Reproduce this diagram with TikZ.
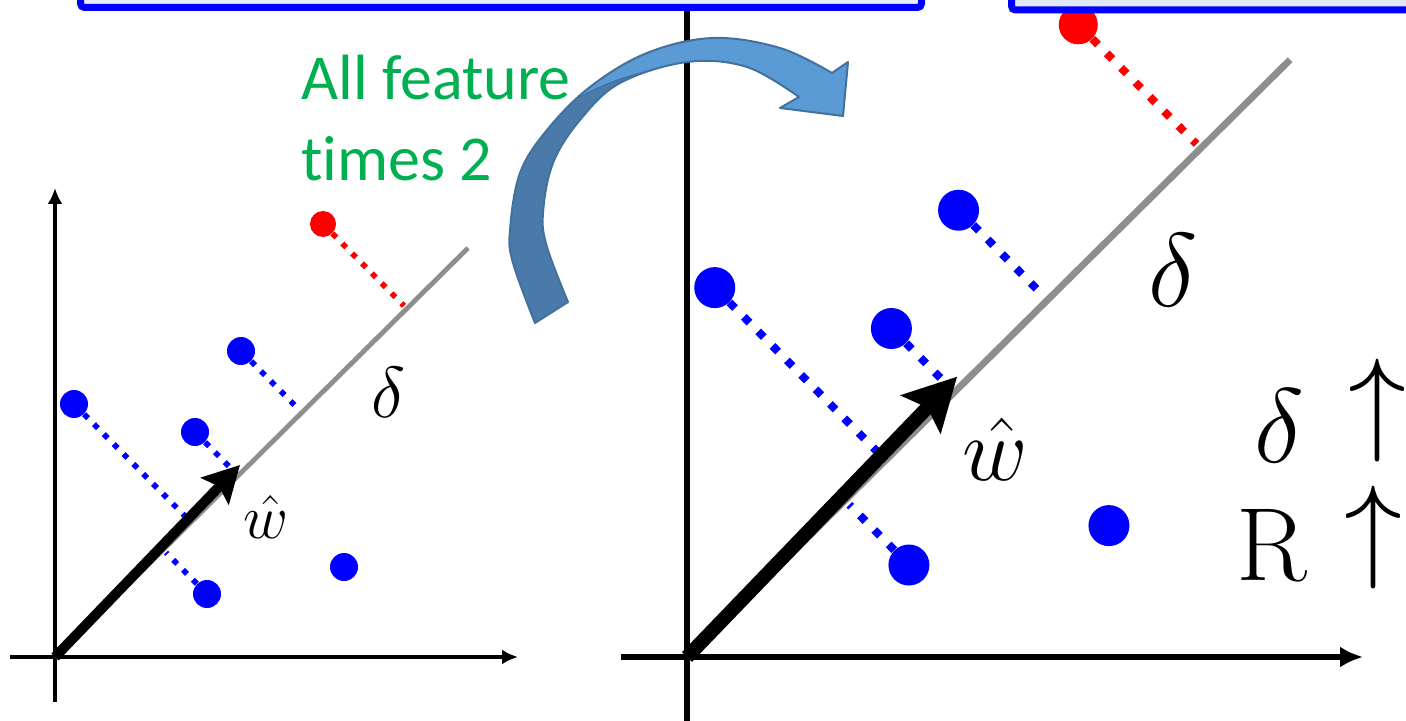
\documentclass[tikz,border=0pt]{standalone}
\usepackage{fontspec}
\newfontfamily\calib[Ligatures=CommonOff]{Carlito}
\usetikzlibrary{arrows.meta,calc}
\definecolor{featgreen}{HTML}{00B050}
\definecolor{boxfillR}{HTML}{DEE8F4}
\definecolor{boxfillL}{HTML}{E8EEF7}
\definecolor{arrlight}{HTML}{5B9BD5}
\definecolor{arrdark}{HTML}{4A7AAA}
\definecolor{arredge}{HTML}{41719C}
\definecolor{projgray}{HTML}{8E8E8E}
\begin{document}
\begin{tikzpicture}[x=0.5pt,y=-0.5pt,
  topbox/.style={draw=blue,line width=3.5pt,rounded corners=2pt},
  axisL/.style={line width=2pt,-{Latex[length=8pt,width=7.5pt]}},
  axisR/.style={line width=3.2pt,-{Latex[length=11.5pt,width=10.5pt]}},
  grayL/.style={projgray,line width=2.4pt},
  grayR/.style={projgray,line width=3.4pt},
  warrL/.style={line width=5pt,-{Stealth[length=18pt,width=19pt,inset=3pt]}},
  warrR/.style={line width=7pt,-{Stealth[length=26pt,width=27pt,inset=4.5pt]}},
  dotlineL/.style={line width=2.8pt,dash pattern=on 2.8pt off 4.2pt,shorten >=2pt},
  dotlineR/.style={line width=4pt,dash pattern=on 4pt off 6.2pt,shorten >=3pt},
  ptL/.style={circle,inner sep=0pt,minimum size=14pt,fill=blue},
  ptR/.style={circle,inner sep=0pt,minimum size=20.5pt,fill=blue},
  lblL/.style={inner sep=0pt,font=\Huge,scale=1.45},
  lblR/.style={inner sep=0pt,font=\Huge,scale=2.1},
  lblW/.style={inner sep=0pt,font=\Huge,scale=1.246},
  lblWR/.style={inner sep=0pt,font=\Huge,scale=1.81},
  feat/.style={anchor=base west,inner sep=0pt,text=featgreen,font=\calib\fontsize{32}{38}\selectfont},
  bigd/.style={inner sep=0pt,anchor=base west,font=\Huge,scale=2.12},
  bigR/.style={inner sep=0pt,anchor=base west,font=\fontsize{52}{52}\selectfont},
  bigarr/.style={inner sep=0pt,anchor=south,font=\Huge,scale=2.33}
]
\useasboundingbox (0,0) rectangle (1406,721);
\clip (0,0) rectangle (1406,721);

% ---------------- left plot ----------------
\begin{scope}[shift={(55,657)}]
  \coordinate (lO) at (0,0);
  \coordinate (lE) at (413,-409);
  \coordinate (lW) at (185,-192);
  \coordinate (lXs) at (-45,0);
  \coordinate (lXe) at (463,0);
  \coordinate (lYs) at (0,45);
  \coordinate (lYe) at (0,-469);
  \draw[axisL] (lXs) -- (lXe);
  \draw[axisL] (lYs) -- (lYe);
  \draw[grayL] (lO) -- (lE);
  \node[ptL,fill=red,minimum size=13pt] (lr) at (268,-433) {};
  \node[ptL] (lb1) at (186,-306) {};
  \node[ptL] (lb2) at (19,-253) {};
  \node[ptL] (lb3) at (140,-225) {};
  \node[ptL] (lb4) at (152,-63) {};
  \node[ptL] (lb5) at (289,-90) {};
  \draw[dotlineL,red] (lr) -- ($(lO)!(lr.center)!(lE)$);
  \draw[dotlineL,blue] (lb1) -- ($(lO)!(lb1.center)!(lE)$);
  \draw[dotlineL,blue] (lb2) -- ($(lO)!(lb2.center)!(lE)$);
  \draw[dotlineL,blue] (lb3) -- ($(lO)!(lb3.center)!(lE)$);
  \draw[dotlineL,blue] (lb4) -- ($(lO)!(lb4.center)!(lE)$);
  \draw[warrL] (lO) -- (lW);
  \node[lblL] (ld) at (333,-265) {$\delta$};
  \node[lblW] (lw) at (211,-140) {$\hat{w}$};
\end{scope}

% ---------------- right plot ----------------
\begin{scope}[shift={(687,657)},scale=1.46]
  \coordinate (rO) at (0,0);
  \coordinate (rE) at (413,-409);
  \coordinate (rW) at (185,-192);
  \coordinate (rXs) at (-45,0);
  \coordinate (rXe) at (463,0);
  \coordinate (rYs) at (0,45);
  \coordinate (rYe) at (0,-469);
  \draw[axisR] (rXs) -- (rXe);
  \draw[axisR] (rYs) -- (rYe);
  \draw[grayR] (rO) -- (rE);
  \node[ptR,fill=red,minimum size=19.5pt] (rr) at (268,-433) {};
  \node[ptR] (rb1) at (186,-306) {};
  \node[ptR] (rb2) at (19,-253) {};
  \node[ptR] (rb3) at (140,-225) {};
  \node[ptR] (rb4) at (152,-63) {};
  \node[ptR] (rb5) at (289,-90) {};
  \draw[dotlineR,red] (rr) -- ($(rO)!(rr.center)!(rE)$);
  \draw[dotlineR,blue] (rb1) -- ($(rO)!(rb1.center)!(rE)$);
  \draw[dotlineR,blue] (rb2) -- ($(rO)!(rb2.center)!(rE)$);
  \draw[dotlineR,blue] (rb3) -- ($(rO)!(rb3.center)!(rE)$);
  \draw[dotlineR,blue] (rb4) -- ($(rO)!(rb4.center)!(rE)$);
  \draw[warrR] (rO) -- (rW);
  \node[lblR] (rd) at (333,-265) {$\delta$};
  \node[lblWR] (rw) at (211,-142) {$\hat{w}$};
\end{scope}

% ---------------- top boxes ----------------
\draw[topbox,fill=boxfillL] (80.5,-40) rectangle (921.5,7.5);
\draw[topbox,fill=boxfillR] (1011.5,-40) rectangle (1460,10);

% ---------------- text ----------------
\node[feat] (t1) at (301,100) {All feature};
\node[feat] (t2) at (301,181) {times 2};

\node[bigd] (sd) at (1254,462) {$\delta$};
\node[bigarr] (su1) at (1377,463) {$\uparrow$};
\node[bigR] (sR) at (1236,580) {R};
\node[bigarr] (su2) at (1373,590) {$\uparrow$};

% ---------------- curved arrow ----------------
\fill[arrlight] plot[smooth,tension=0.6] coordinates {(535,323) (513,263) (510,230) (520,173) (547,130) (590,87) (647,53) (713,38) (780,48) (832,73)}
  -- (848,62) -- (843,116) -- (780,108) -- (799,97)
  -- plot[smooth,tension=0.6] coordinates {(799,97) (747,67) (687,62) (620,83) (580,120) (553,163) (543,213) (547,247) (568,302)} -- cycle;
\begin{scope}
  \clip plot[smooth,tension=0.6] coordinates {(535,323) (513,263) (510,230) (520,173) (547,130) (590,87) (647,53) (713,38) (780,48) (832,73)}
  -- (848,62) -- (843,116) -- (780,108) -- (799,97)
  -- plot[smooth,tension=0.6] coordinates {(799,97) (747,67) (687,62) (620,83) (580,120) (553,163) (543,213) (547,247) (568,302)} -- cycle;
  \fill[arrdark] (470,400) -- (470,30) -- (560,30) -- (578,98) .. controls (600,86) and (620,78) .. (645,72) -- (660,400) -- cycle;
\end{scope}
\draw[arredge,line width=0.6pt] (578,98) .. controls (600,86) and (620,78) .. (645,72);
\draw[arredge,line width=1pt,line join=round] plot[smooth,tension=0.6] coordinates {(535,323) (513,263) (510,230) (520,173) (547,130) (590,87) (647,53) (713,38) (780,48) (832,73)}
  -- (848,62) -- (843,116) -- (780,108) -- (799,97)
  -- plot[smooth,tension=0.6] coordinates {(799,97) (747,67) (687,62) (620,83) (580,120) (553,163) (543,213) (547,247) (568,302)} -- cycle;
\end{tikzpicture}
\end{document}
